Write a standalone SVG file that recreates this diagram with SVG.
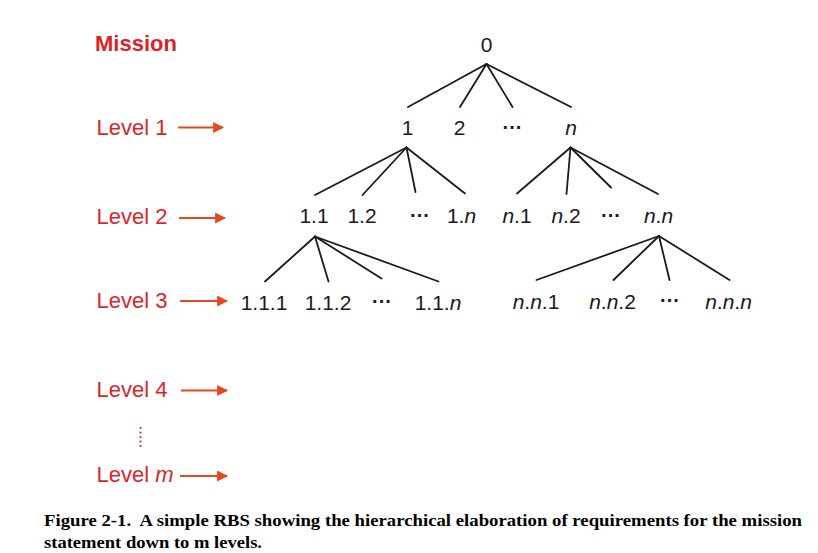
<svg xmlns="http://www.w3.org/2000/svg" width="818" height="553" viewBox="0 0 818 553">
<defs>
<style>
.lvl{font-family:"Liberation Sans",Arial,sans-serif;font-size:22px;fill:#d9262b}
.mis{font-family:"Liberation Sans",Arial,sans-serif;font-size:22px;font-weight:bold;fill:#e01f26}
.nd{font-family:"Liberation Sans",Arial,sans-serif;font-size:21px;fill:#1a1a1a;text-anchor:middle}
.dots{font-family:"Liberation Sans",Arial,sans-serif;font-size:20px;font-weight:bold;fill:#1a1a1a;text-anchor:middle}
.i{font-style:italic}
.arr{stroke:#e8461f;stroke-width:2;fill:none}
.cap{font-family:"Liberation Serif","Times New Roman",serif;font-size:16.5px;font-weight:bold;fill:#000}
.vd{fill:#c8283a}
#connectors line{stroke:#1a1a1a;stroke-width:1.8;stroke-linecap:round}
</style>
<marker id="ah" viewBox="0 0 10 10" refX="9" refY="5" markerWidth="5.5" markerHeight="5.5" orient="auto" markerUnits="strokeWidth">
<path d="M0,0 L10,5 L0,10 Z" fill="#e8461f"/>
</marker>
</defs>
<rect width="818" height="553" fill="#fff"/>

<g id="levels">
<text class="mis" x="95" y="51">Mission</text>
<g id="level1"><text class="lvl" x="96.5" y="135">Level 1</text><line class="arr" x1="178" y1="127.5" x2="223" y2="127.5" marker-end="url(#ah)"/></g>
<g id="level2"><text class="lvl" x="96.5" y="224">Level 2</text><line class="arr" x1="179" y1="218" x2="225" y2="218" marker-end="url(#ah)"/></g>
<g id="level3"><text class="lvl" x="96.5" y="308">Level 3</text><line class="arr" x1="180" y1="301" x2="227" y2="301" marker-end="url(#ah)"/></g>
<g id="level4"><text class="lvl" x="96.5" y="397">Level 4</text><line class="arr" x1="181" y1="390.5" x2="227" y2="390.5" marker-end="url(#ah)"/></g>
<g id="vdots">
<circle class="vd" cx="140.5" cy="428" r="1.1"/>
<circle class="vd" cx="140.5" cy="432.5" r="1.1"/>
<circle class="vd" cx="140.5" cy="437" r="1.1"/>
<circle class="vd" cx="140.5" cy="441.5" r="1.1"/>
<circle class="vd" cx="140.5" cy="446" r="1.1"/>
</g>
<g id="levelm"><text class="lvl" x="96.5" y="482">Level <tspan class="i">m</tspan></text><line class="arr" x1="180" y1="476" x2="227" y2="476" marker-end="url(#ah)"/></g>
</g>

<g id="connectors">
<line x1="486.5" y1="64" x2="408" y2="107"/>
<line x1="486.5" y1="64" x2="460" y2="107"/>
<line x1="486.5" y1="64" x2="512.5" y2="107"/>
<line x1="486.5" y1="64" x2="571" y2="107"/>
<line x1="406.5" y1="147.5" x2="315" y2="195"/>
<line x1="406.5" y1="147.5" x2="362.5" y2="195"/>
<line x1="406.5" y1="147.5" x2="415.5" y2="192"/>
<line x1="406.5" y1="147.5" x2="465" y2="193.5"/>
<line x1="570.5" y1="147.5" x2="517" y2="193.5"/>
<line x1="570.5" y1="147.5" x2="566.5" y2="194"/>
<line x1="570.5" y1="147.5" x2="611" y2="187.5"/>
<line x1="570.5" y1="147.5" x2="658" y2="194"/>
<line x1="315" y1="236.5" x2="265" y2="281.5"/>
<line x1="315" y1="236.5" x2="328.5" y2="281.5"/>
<line x1="315" y1="236.5" x2="381.5" y2="278.5"/>
<line x1="315" y1="236.5" x2="438.5" y2="281.5"/>
<line x1="659" y1="236" x2="536.5" y2="280"/>
<line x1="659" y1="236" x2="613.5" y2="280"/>
<line x1="659" y1="236" x2="669.5" y2="280"/>
<line x1="659" y1="236" x2="729.5" y2="280"/>
</g>

<g id="n0"><text class="nd" x="486.5" y="52">0</text></g>
<g id="n1"><text class="nd" x="407.5" y="135">1</text></g>
<g id="n2"><text class="nd" x="459.5" y="135">2</text></g>
<g id="n1dots"><text class="dots" x="512.5" y="134">···</text></g>
<g id="nn"><text class="nd" x="571" y="135"><tspan class="i">n</tspan></text></g>

<g id="n1_1"><text class="nd" x="314" y="223">1.1</text></g>
<g id="n1_2"><text class="nd" x="362" y="223">1.2</text></g>
<g id="n1_dots"><text class="dots" x="420" y="222">···</text></g>
<g id="n1_n"><text class="nd" x="461.5" y="223">1.<tspan class="i">n</tspan></text></g>
<g id="nn_1"><text class="nd" x="517" y="223"><tspan class="i">n</tspan>.1</text></g>
<g id="nn_2"><text class="nd" x="566" y="223"><tspan class="i">n</tspan>.2</text></g>
<g id="nn_dots"><text class="dots" x="611" y="222">···</text></g>
<g id="nn_n"><text class="nd" x="658.5" y="223"><tspan class="i">n</tspan>.<tspan class="i">n</tspan></text></g>

<g id="n1_1_1"><text class="nd" x="264" y="310">1.1.1</text></g>
<g id="n1_1_2"><text class="nd" x="328" y="310">1.1.2</text></g>
<g id="n1_1_dots"><text class="dots" x="382" y="308">···</text></g>
<g id="n1_1_n"><text class="nd" x="438" y="310">1.1.<tspan class="i">n</tspan></text></g>
<g id="nn_n_1"><text class="nd" x="536" y="309"><tspan class="i">n</tspan>.<tspan class="i">n</tspan>.1</text></g>
<g id="nn_n_2"><text class="nd" x="612.5" y="309"><tspan class="i">n</tspan>.<tspan class="i">n</tspan>.2</text></g>
<g id="nn_n_dots"><text class="dots" x="670" y="307">···</text></g>
<g id="nn_n_n"><text class="nd" x="728.5" y="309"><tspan class="i">n</tspan>.<tspan class="i">n</tspan>.<tspan class="i">n</tspan></text></g>

<g id="caption">
<text class="cap" x="44" y="526" textLength="758" lengthAdjust="spacingAndGlyphs">Figure 2-1.&#160; A simple RBS showing the hierarchical elaboration of requirements for the mission</text>
<text class="cap" x="44" y="548" textLength="218" lengthAdjust="spacingAndGlyphs">statement down to m levels.</text>
</g>
</svg>
